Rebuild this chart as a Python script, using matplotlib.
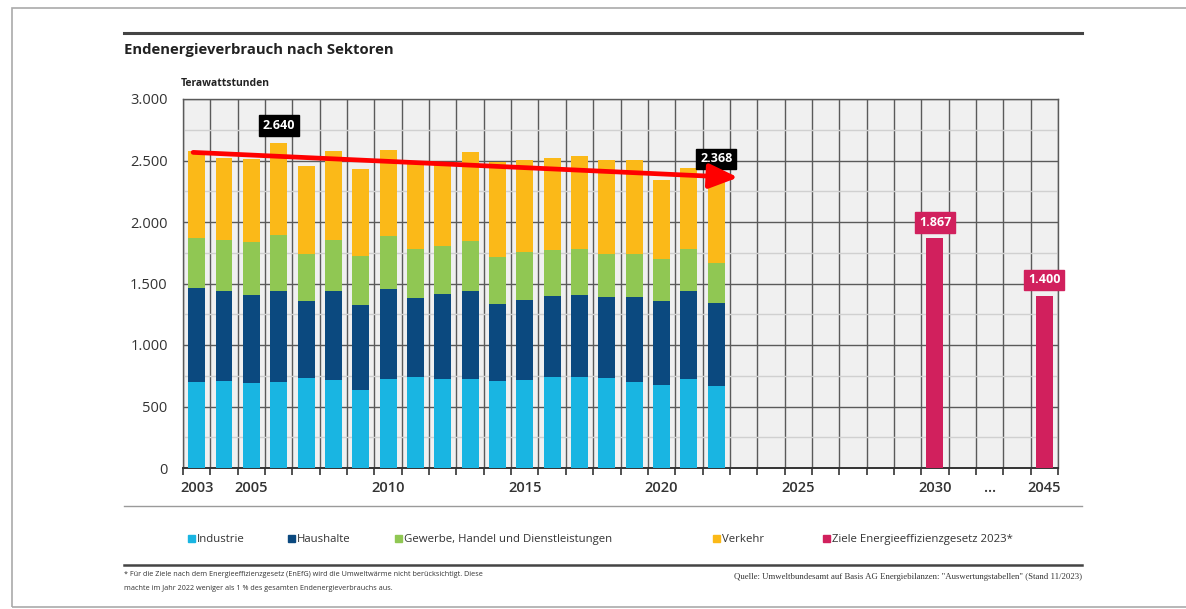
import numpy as np
import matplotlib
matplotlib.use("Agg")
import matplotlib.pyplot as plt
from matplotlib.patches import Rectangle
from matplotlib.lines import Line2D
from matplotlib.ticker import FuncFormatter, FixedLocator

plt.rcParams['font.family'] = ['Open Sans', 'DejaVu Sans']

# Endenergieverbrauch in TWh
years = list(range(2003, 2023))
industrie = [702, 708, 689, 702, 730, 716, 635, 722, 743, 727, 722, 710, 716, 738, 738, 730, 702, 675, 722, 670]
haushalte = [762, 732, 716, 738, 629, 721, 689, 737, 643, 686, 718, 622, 649, 662, 667, 661, 689, 684, 715, 673]
gewerbe = [406, 411, 432, 457, 384, 420, 400, 425, 398, 392, 403, 384, 389, 370, 373, 352, 352, 344, 347, 324]
verkehr = [711, 669, 678, 743, 716, 724, 703, 705, 706, 675, 723, 769, 751, 749, 762, 765, 765, 640, 653, 701]

target_labels = ["2030", "2045"]
target_values = [1867, 1400]

# x-Kategorien (ein Feld pro Jahr, danach Lücke und 2045)
slots = [str(y) for y in range(2003, 2032)] + ["…", " ", "2045"]
shown_ticks = ["2003", "2005", "2010", "2015", "2020", "2025", "2030", "…", "2045"]

series_names = ["Industrie", "Haushalte", "Gewerbe, Handel und Dienstleistungen", "Verkehr"]
colors = ["#19b5e2", "#0b497f", "#90c753", "#fbb918"]
pink = "#d1205d"


def de(v):
    return f"{v:,.0f}".replace(",", ".")


fig = plt.figure(figsize=(11.86, 6.09), dpi=100)
ax = fig.add_axes([183/1186, 1-468/609, 875/1186, 369/609])
ax.set_facecolor("#f0f0f0")

x_hist = np.array([slots.index(str(y)) for y in years])
x_target = np.array([slots.index(t) for t in target_labels])
w = 0.62

bottom = np.zeros(len(years))
for vals, c in zip([industrie, haushalte, gewerbe, verkehr], colors):
    ax.bar(x_hist, vals, w, bottom=bottom, color=c, zorder=3)
    bottom += np.array(vals)
totals = bottom

ax.bar(x_target, target_values, w, color=pink, zorder=3)

ax.set_xlim(-0.5, len(slots) - 0.5)
ax.set_ylim(0, 3000)

# Gitter
ax.set_yticks(np.arange(0, 3001, 500))
ax.set_yticks(np.arange(250, 3000, 500), minor=True)
ax.yaxis.set_major_formatter(FuncFormatter(lambda v, p: de(v)))
ax.tick_params(axis="y", which="both", length=0, pad=11, labelsize=10.5, labelcolor="#333333")
ax.grid(axis="y", which="major", color="#5a5a5a", lw=1.0, zorder=1)
ax.grid(axis="y", which="minor", color="#d0d0d0", lw=1.0, zorder=1)

ax.set_xticks([slots.index(t) for t in shown_ticks])
ax.set_xticklabels(shown_ticks)
ax.xaxis.set_minor_locator(FixedLocator(np.arange(-0.5, len(slots), 1)))
ax.tick_params(axis="x", which="major", length=0, pad=9, labelsize=10.5, labelcolor="#333333")
ax.tick_params(axis="x", which="minor", length=5, width=1.2, color="#333333", direction="out")
for xb in np.arange(-0.5, len(slots), 1):
    ax.axvline(xb, color="#5a5a5a", lw=1.0, zorder=1)
for s in ["top", "right", "left"]:
    ax.spines[s].set_color("#5a5a5a")
    ax.spines[s].set_linewidth(1.0)
ax.spines["bottom"].set_color("#333333")
ax.spines["bottom"].set_linewidth(1.4)
for lab in ax.get_xticklabels():
    lab.set_fontweight("semibold")

# Wertelabels
i_max = int(np.argmax(totals))
for i in [i_max, len(years) - 1]:
    ax.text(x_hist[i], totals[i] + 145, de(totals[i]), ha="center", va="center",
            color="white", fontsize=9, fontweight="bold", zorder=6,
            bbox=dict(boxstyle="square,pad=0.3", fc="black", ec="black"))
for xi, v in zip(x_target, target_values):
    ax.text(xi, v + 130, de(v), ha="center", va="center", color="white",
            fontsize=9, fontweight="bold", zorder=6,
            bbox=dict(boxstyle="square,pad=0.3", fc=pink, ec=pink))

# roter Trendpfeil
ax.annotate("", xy=(x_hist[-1] + 0.8, 2362), xytext=(x_hist[0] - 0.13, 2566),
            arrowprops=dict(arrowstyle="-|>,head_length=0.7,head_width=0.3",
                            color="#ff0000", lw=3.4, mutation_scale=25,
                            shrinkA=0, shrinkB=0), zorder=7)

# Titel und Achsenbeschriftung
fig.text(124/1186, 1-50/609, "Endenergieverbrauch nach Sektoren", fontsize=10.7,
         fontweight="bold", color="#222222", va="center")
fig.text(181/1186, 1-84/609, "Terawattstunden", fontsize=7.5, fontweight="bold",
         color="#222222", va="center")

# Linien
fig.add_artist(Line2D([124/1186, 1082/1186], [1-33/609, 1-33/609], color="#444444", lw=2.2))
fig.add_artist(Line2D([124/1186, 1082/1186], [1-506/609, 1-506/609], color="#9a9a9a", lw=1.0))
fig.add_artist(Line2D([124/1186, 1082/1186], [1-565/609, 1-565/609], color="#444444", lw=1.8))

# Legende
leg_x = [188, 288, 395, 713, 823]
leg_names = series_names + ["Ziele Energieeffizienzgesetz 2023*"]
leg_cols = colors + [pink]
for lx, name, c in zip(leg_x, leg_names, leg_cols):
    fig.add_artist(Rectangle((lx/1186, 1-542/609), 7/1186, 7/609, color=c))
    fig.text((lx + 9)/1186, 1-542/609, name, fontsize=8.2, color="#333333", va="baseline")

# Fußnote und Quelle
fig.text(124/1186, 1-574/609,
         "* Für die Ziele nach dem Energieeffizienzgesetz (EnEfG) wird die Umweltwärme nicht berücksichtigt. Diese",
         fontsize=5.2, color="#333333", va="center")
fig.text(124/1186, 1-588/609,
         "machte im Jahr 2022 weniger als 1 % des gesamten Endenergieverbrauchs aus.",
         fontsize=5.2, color="#333333", va="center")
fig.text(1082/1186, 1-577/609,
         "Quelle: Umweltbundesamt auf Basis AG Energiebilanzen: \"Auswertungstabellen\" (Stand 11/2023)",
         fontsize=6.3, color="#333333", va="center", ha="right", family="Liberation Serif")

# Seitenrand
fig.add_artist(Rectangle((12/1186, 2/609), 1.0, 1-10/609, fill=False, ec="#aaaaaa", lw=1.2))

fig.savefig("out.png", dpi=100, facecolor="white")
